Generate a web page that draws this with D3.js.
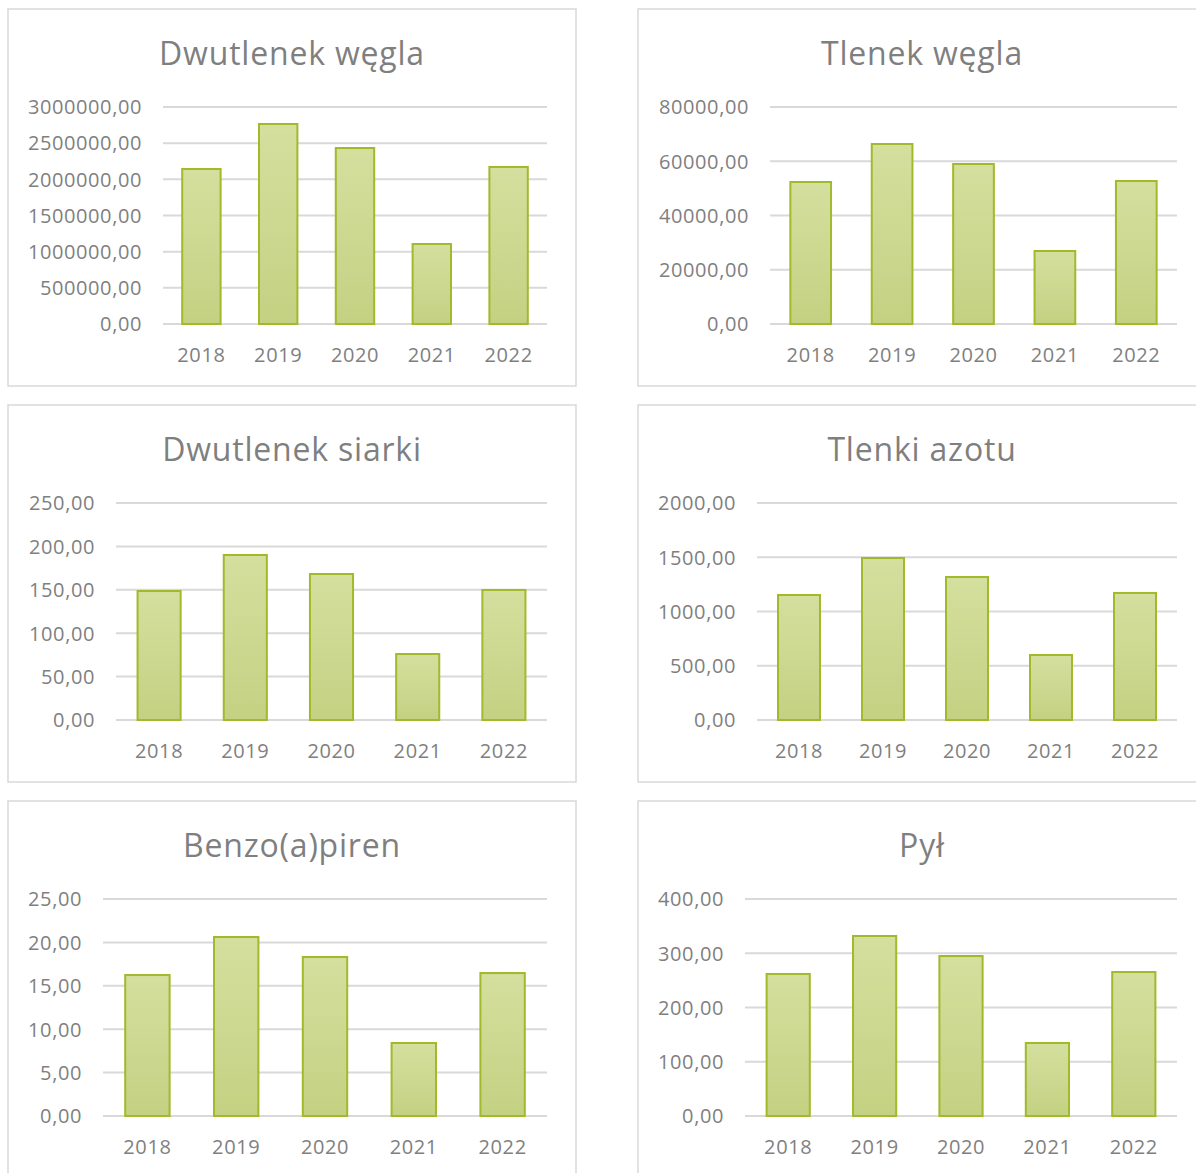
<!DOCTYPE html>
<html><head><meta charset="utf-8">
<script src="https://cdn.jsdelivr.net/npm/d3@7"></script>
<style>
html,body{margin:0;padding:0;background:#fff;}
svg{display:block;}
</style></head>
<body>
<svg id="chart" width="1196" height="1173"></svg>
<script>
// ---- data ----
const years = ["2018", "2019", "2020", "2021", "2022"];
const titles = ["Dwutlenek węgla", "Tlenek węgla", "Dwutlenek siarki", "Tlenki azotu", "Benzo(a)piren", "Pył"];
const co2 = [2143000, 2765000, 2433000, 1106000, 2171000];
const co = [52350, 66360, 58990, 26910, 52720];
const so2 = [148.6, 190.1, 168.2, 76.0, 149.8];
const nox = [1152, 1493, 1318, 599, 1171];
const bap = [16.24, 20.62, 18.32, 8.41, 16.47];
const pyl = [261.8, 331.8, 294.9, 134.6, 265.4];
const yMax = [3000000, 80000, 250, 2000, 25, 400];
const yStep = [500000, 20000, 50, 500, 5, 100];
const series = [co2, co, so2, nox, bap, pyl];

// ---- layout ----
const panelLeft = [8, 638];
const panelTop = [9, 405, 801];
const panelW = 568, panelH = 377;
const plotLeftOffset = [155, 132, 108, 119, 95, 107];
const plotRightOffset = 539;
const gridTopOffset = 98, gridBottomOffset = 315;

const fmt = d3.formatLocale({decimal: ",", thousands: "", grouping: [3], currency: ["", ""]}).format(".2f");

const svg = d3.select("#chart");
const defs = svg.append("defs");
const grad = defs.append("linearGradient").attr("id", "barGrad")
  .attr("x1", 0).attr("y1", 0).attr("x2", 0).attr("y2", 1);
grad.append("stop").attr("offset", "0%").attr("stop-color", "#d5df9e");
grad.append("stop").attr("offset", "100%").attr("stop-color", "#c4d182");

const textColor = "#7f7f7f";
const fontFam = "'Open Sans', 'Noto Sans', sans-serif";

series.forEach((vals, i) => {
  const col = i % 2, row = Math.floor(i / 2);
  const px = panelLeft[col], py = panelTop[row];
  const g = svg.append("g");
  g.append("rect").attr("x", px).attr("y", py).attr("width", panelW).attr("height", panelH)
    .attr("fill", "#fff").attr("stroke", "#d9d9d9").attr("stroke-width", 1.5);

  const x0 = px + plotLeftOffset[i], x1 = px + plotRightOffset;
  const y = d3.scaleLinear().domain([0, yMax[i]]).range([py + gridBottomOffset, py + gridTopOffset]);
  const x = d3.scaleBand().domain(years).range([x0, x1]).paddingInner(0.5).paddingOuter(0.25);

  const ticks = d3.range(0, yMax[i] + yStep[i] / 2, yStep[i]);

  // gridlines
  g.append("g").selectAll("line").data(ticks).join("line")
    .attr("x1", x0).attr("x2", x1)
    .attr("y1", d => y(d)).attr("y2", d => y(d))
    .attr("stroke", "#d9d9d9").attr("stroke-width", 2);

  // y axis labels
  const yAxis = d3.axisLeft(y).tickValues(ticks).tickFormat(fmt).tickSize(0).tickPadding(21);
  const ya = g.append("g").attr("transform", `translate(${x0},0)`).call(yAxis);
  ya.select(".domain").remove();
  ya.selectAll("text").attr("fill", textColor).attr("font-family", fontFam)
    .attr("font-size", 20).attr("letter-spacing", "0.6px").attr("dy", "0.34em");

  // bars
  g.append("g").selectAll("rect").data(vals).join("rect")
    .attr("x", (d, j) => x(years[j]))
    .attr("width", x.bandwidth())
    .attr("y", d => y(d))
    .attr("height", d => y(0) - y(d))
    .attr("fill", "url(#barGrad)")
    .attr("stroke", "#9fba2b").attr("stroke-width", 2);

  // x axis labels
  const xAxis = d3.axisBottom(x).tickSize(0).tickPadding(0);
  const xa = g.append("g").attr("transform", `translate(0,${py + 346})`).call(xAxis);
  xa.select(".domain").remove();
  xa.selectAll("text").attr("fill", textColor).attr("font-family", fontFam)
    .attr("font-size", 20).attr("letter-spacing", "0.6px").attr("dy", "0.34em");

  // title
  g.append("text").attr("x", px + panelW / 2).attr("y", py + 44).attr("dy", "0.36em")
    .attr("text-anchor", "middle").attr("fill", textColor).attr("font-family", fontFam)
    .attr("font-size", 32).attr("letter-spacing", "0.8px").text(titles[i]);
});
</script>
</body></html>
